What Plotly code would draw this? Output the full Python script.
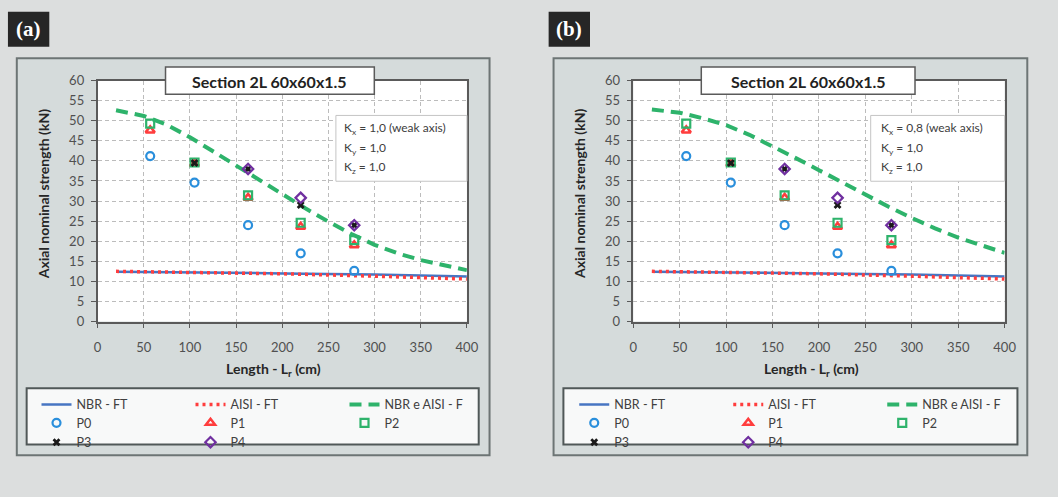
import plotly.graph_objects as go

W, H = 1058, 497

# ---------------- data ----------------
test_len = [57, 105, 163, 220, 278]
P0 = [41.2, 34.6, 24.0, 17.0, 12.6]
P1 = [47.6, 39.3, 30.8, 23.6, 19.0]
P2 = [49.3, 39.6, 31.4, 24.6, 20.3]
P3_len = [105, 163, 220, 278]
P3 = [39.5, 38.0, 29.0, 24.0]
P4_len = [163, 220, 278]
P4 = [38.0, 30.8, 24.0]

curve_len = [20, 50, 75, 100, 125, 150, 175, 200, 225, 250, 275, 300, 325, 350, 375, 400]
flex_a = [52.6, 51.2, 49.0, 45.9, 42.4, 38.8, 35.2, 31.6, 28.2, 24.9, 21.8, 19.1, 17.0, 15.3, 14.0, 12.8]
flex_b = [52.8, 52.0, 50.6, 48.9, 46.5, 43.7, 40.7, 37.7, 34.6, 31.6, 28.6, 25.8, 23.2, 20.9, 18.9, 17.1]

ft_len = [20, 100, 200, 300, 400]
nbr_ft = [12.4, 12.3, 12.0, 11.7, 11.2]
aisi_ft = [12.5, 12.3, 11.9, 11.3, 10.6]

x_ticks = [0, 50, 100, 150, 200, 250, 300, 350, 400]
y_ticks = [0, 5, 10, 15, 20, 25, 30, 35, 40, 45, 50, 55, 60]

panel_labels = ["(a)", "(b)"]
kx_text = ["K<sub>x</sub> = 1,0 (weak axis)", "K<sub>x</sub> = 0,8 (weak axis)"]
ky_text = "K<sub>y</sub> = 1,0"
kz_text = "K<sub>z</sub> = 1,0"
title_text = "Section 2L 60x60x1.5"
x_title = "Length - L<sub>r</sub> (cm)"
y_title = "Axial nominal strength (kN)"

# ---------------- style ----------------
FONT = "Lato"
C_BLUE = "#4775c2"
C_RED = "#ff3d3d"
C_GREEN = "#2eb36b"
C_P0 = "#2a8fdc"
C_P4 = "#7030a0"


def PX(x):
    return x / W


def PY(y):
    return 1 - y / H


panels = [
    dict(xa="x", ya="y", flex=flex_a, plot=(95, 470), frame=(13, 493), lbox=(23, 482),
         legx=33, tbox=(164, 376), kbox=(337, 470), ktx=343, ylab=40, xlab=274,
         pbox=(4, 46)),
    dict(xa="x2", ya="y2", flex=flex_b, plot=(639, 1016), frame=(558, 1039), lbox=(568, 1029),
         legx=579, tbox=(708, 925), kbox=(880, 1016), ktx=888, ylab=585, xlab=820,
         pbox=(553, 595)),
]

PLOT_TOP, PLOT_BOT = 75, 324
ROWS_Y = [410, 429, 449]

fig = go.Figure()
shapes = []
annotations = []
legends = {}

for i, p in enumerate(panels):
    lg = ["legend" if i == 0 else "legend4", "legend2" if i == 0 else "legend5",
          "legend3" if i == 0 else "legend6"]
    # lines
    fig.add_trace(go.Scatter(x=ft_len, y=nbr_ft, mode="lines", name="NBR - FT",
                             line=dict(color=C_BLUE, width=2.5), xaxis=p["xa"], yaxis=p["ya"],
                             legend=lg[0]))
    fig.add_trace(go.Scatter(x=ft_len, y=aisi_ft, mode="lines", name="AISI - FT",
                             line=dict(color=C_RED, width=3.5, dash="3px,4px"),
                             xaxis=p["xa"], yaxis=p["ya"], legend=lg[0]))
    fig.add_trace(go.Scatter(x=curve_len, y=p["flex"], mode="lines", name="NBR e AISI - F",
                             line=dict(color=C_GREEN, width=4, dash="12px,7px"),
                             xaxis=p["xa"], yaxis=p["ya"], legend=lg[0]))
    # markers
    fig.add_trace(go.Scatter(x=test_len, y=P0, mode="markers", name="P0",
                             marker=dict(symbol="circle-open", size=8, color=C_P0,
                                         line=dict(width=2.2)),
                             xaxis=p["xa"], yaxis=p["ya"], legend=lg[1]))
    fig.add_trace(go.Scatter(x=test_len, y=P1, mode="markers", name="P1",
                             marker=dict(symbol="triangle-up-open", size=8, color=C_RED,
                                         line=dict(width=2.5)),
                             xaxis=p["xa"], yaxis=p["ya"], legend=lg[1]))
    fig.add_trace(go.Scatter(x=test_len, y=P2, mode="markers", name="P2",
                             marker=dict(symbol="square-open", size=8, color=C_GREEN,
                                         line=dict(width=2.2)),
                             xaxis=p["xa"], yaxis=p["ya"], legend=lg[1]))
    fig.add_trace(go.Scatter(x=P3_len, y=P3, mode="markers", name="P3",
                             marker=dict(symbol="x", size=7, color="#1a1a1a",
                                         line=dict(width=0)),
                             xaxis=p["xa"], yaxis=p["ya"], legend=lg[2]))
    fig.add_trace(go.Scatter(x=P4_len, y=P4, mode="markers", name="P4",
                             marker=dict(symbol="diamond-open", size=8, color=C_P4,
                                         line=dict(width=2.2)),
                             xaxis=p["xa"], yaxis=p["ya"], legend=lg[2]))

    for r in range(3):
        legends[lg[r]] = dict(
            orientation="h", x=PX(p["legx"]), xanchor="left", y=PY(ROWS_Y[r]),
            yanchor="middle", bgcolor="rgba(0,0,0,0)", borderwidth=0,
            font=dict(family=FONT, size=12.5, color="#404040"),
            entrywidth=109, entrywidthmode="pixels", tracegroupgap=0, itemwidth=30,
            itemclick=False, itemdoubleclick=False,
        )

    # frame
    shapes.append(dict(type="rect", xref="paper", yref="paper", layer="below",
                       x0=PX(p["frame"][0]), x1=PX(p["frame"][1]), y0=PY(462), y1=PY(52),
                       fillcolor="#d5dbdb", line=dict(color="#6d7575", width=2)))
    # plot area background
    shapes.append(dict(type="rect", xref=p["xa"] + " domain", yref=p["ya"] + " domain",
                       layer="below", x0=0, x1=1, y0=0, y1=1, fillcolor="white",
                       line=dict(width=0)))
    # legend box
    shapes.append(dict(type="rect", xref="paper", yref="paper", layer="below",
                       x0=PX(p["lbox"][0]), x1=PX(p["lbox"][1]), y0=PY(451), y1=PY(393),
                       fillcolor="#f8f9f9", line=dict(color="#505858", width=2)))
    # title box
    shapes.append(dict(type="rect", xref="paper", yref="paper", layer="above",
                       x0=PX(p["tbox"][0]), x1=PX(p["tbox"][1]), y0=PY(89), y1=PY(61),
                       fillcolor="white", line=dict(color="#5a5a5a", width=1.5)))
    # K box
    shapes.append(dict(type="rect", xref="paper", yref="paper", layer="above",
                       x0=PX(p["kbox"][0]), x1=PX(p["kbox"][1]), y0=PY(179), y1=PY(111),
                       fillcolor="white", line=dict(color="#c4c4c4", width=1)))
    # panel label box
    shapes.append(dict(type="rect", xref="paper", yref="paper", layer="above",
                       x0=PX(p["pbox"][0]), x1=PX(p["pbox"][1]), y0=PY(40), y1=PY(4),
                       fillcolor="#262626", line=dict(width=0)))

    annotations.append(dict(text="<b>%s</b>" % panel_labels[i], xref="paper", yref="paper",
                            x=PX((p["pbox"][0] + p["pbox"][1]) / 2), y=PY(22),
                            xanchor="center", yanchor="middle", showarrow=False,
                            font=dict(family="Liberation Serif", size=21, color="white")))
    annotations.append(dict(text="<b>%s</b>" % title_text, xref="paper", yref="paper",
                            x=PX((p["tbox"][0] + p["tbox"][1]) / 2), y=PY(76),
                            xanchor="center", yanchor="middle", showarrow=False,
                            font=dict(family=FONT, size=16, color="#222222")))
    for txt, yy in [(kx_text[i], 125), (ky_text, 145), (kz_text, 165)]:
        annotations.append(dict(text=txt, xref="paper", yref="paper", x=PX(p["ktx"]),
                                y=PY(yy), xanchor="left", yanchor="middle", showarrow=False,
                                font=dict(family=FONT, size=12, color="#404040")))
    annotations.append(dict(text="<b>%s</b>" % y_title, xref="paper", yref="paper",
                            x=PX(p["ylab"]), y=PY(192), textangle=-90, xanchor="center",
                            yanchor="middle", showarrow=False,
                            font=dict(family=FONT, size=14, color="#262626")))
    annotations.append(dict(text="<b>%s</b>" % x_title, xref="paper", yref="paper",
                            x=PX(p["xlab"]), y=PY(374), xanchor="center", yanchor="middle",
                            showarrow=False, font=dict(family=FONT, size=14, color="#262626")))

axis_common = dict(showgrid=True, gridcolor="#bcbcbc", griddash="4px,3px", gridwidth=1,
                   zeroline=False, showline=True, linecolor="#5a5a5a", linewidth=1.5,
                   mirror=True, ticks="outside", ticklen=5, tickcolor="#5a5a5a",
                   tickfont=dict(family=FONT, size=13, color="#505050"))

layout = dict(
    width=W, height=H, margin=dict(l=0, r=0, t=0, b=0),
    paper_bgcolor="#dcdede", plot_bgcolor="rgba(0,0,0,0)",
    xaxis=dict(domain=[PX(95), PX(470)], range=[0, 400], tickvals=x_ticks, anchor="y",
               ticklabelstandoff=8, **axis_common),
    yaxis=dict(domain=[PY(PLOT_BOT), PY(PLOT_TOP)], range=[0, 60], tickvals=y_ticks,
               anchor="x", ticklabelstandoff=4, **axis_common),
    xaxis2=dict(domain=[PX(639), PX(1016)], range=[0, 400], tickvals=x_ticks, anchor="y2",
                ticklabelstandoff=8, **axis_common),
    yaxis2=dict(domain=[PY(PLOT_BOT), PY(PLOT_TOP)], range=[0, 60], tickvals=y_ticks,
                anchor="x2", ticklabelstandoff=4, **axis_common),
    shapes=shapes, annotations=annotations, showlegend=True,
    font=dict(family=FONT),
)
layout.update(legends)
fig.update_layout(**layout)

fig.write_html("out.html")
